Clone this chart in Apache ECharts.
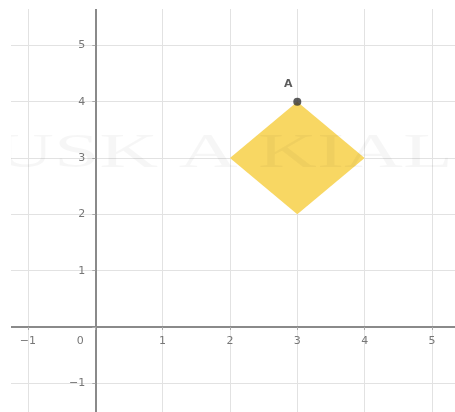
<!DOCTYPE html>
<html>
<head>
<meta charset="utf-8">
<script src="https://cdn.jsdelivr.net/npm/echarts@6/dist/echarts.min.js"></script>
<style>
  html, body { margin: 0; padding: 0; background: #fff; }
  #main { width: 455px; height: 412px; }
</style>
</head>
<body>
<div id="main"></div>
<script>
// square vertices (x, y)
var shapeX = [3, 4, 3, 2];
var shapeY = [4, 3, 2, 3];
// labelled point
var pointA = [3, 4];
var pointName = 'A';
var tickMin = -2, tickMax = 6;

function fmtTick(v) {
    if (v === 0) return '';
    return v < 0 ? '\u2212' + Math.abs(v) : String(v);
}

var chart = echarts.init(document.getElementById('main'));
chart.setOption({
    animation: false,
    backgroundColor: '#fff',
    grid: { left: -39.4, right: -44.3, top: -11, bottom: -27.7, outerBoundsMode: 'none', containLabel: false },
    xAxis: {
        type: 'value', min: tickMin, max: tickMax, interval: 1,
        offset: -112.7,
        axisLine: { onZero: false, lineStyle: { color: '#8a8a8a', width: 2 } },
        axisTick: { show: true, inside: false, length: 3, lineStyle: { color: '#aaa' } },
        splitLine: { lineStyle: { color: '#e2e2e2', width: 1 } },
        axisLabel: {
            margin: 9, color: '#777', fontSize: 11, fontFamily: 'DejaVu Sans',
            formatter: function (v) { return v === 0 ? '{z|0}' : fmtTick(v); },
            rich: { z: { padding: [0, 30, 0, 0], color: '#777', fontSize: 11 } }
        }
    },
    yAxis: {
        type: 'value', min: tickMin, max: tickMax, interval: 1,
        offset: -134.7,
        axisLine: { onZero: false, lineStyle: { color: '#8a8a8a', width: 2 } },
        axisTick: { show: true, length: 3, lineStyle: { color: '#aaa' } },
        splitLine: { lineStyle: { color: '#e2e2e2', width: 1 } },
        axisLabel: { margin: 10, color: '#777', fontSize: 11, fontFamily: 'DejaVu Sans', formatter: fmtTick }
    },
    graphic: [
        // faint watermark lying over the whole picture
        { type: 'text', left: -5, top: 130, z: 50, silent: true, scaleX: 1.7,
          style: { text: 'USK A KIAL', font: '48px "Liberation Serif"', fill: 'rgba(0,0,0,0.035)' } },
        { type: 'rect', left: 0, top: 0, z: 100, shape: { width: 11, height: 412 }, style: { fill: '#fff' } },
        { type: 'rect', left: 0, top: 0, z: 100, shape: { width: 455, height: 9 }, style: { fill: '#fff' } }
    ],
    series: [
        {
            type: 'custom',
            data: [0],
            renderItem: function (params, api) {
                var pts = shapeX.map(function (x, i) { return api.coord([x, shapeY[i]]); });
                return { type: 'polygon', shape: { points: pts }, style: { fill: '#f8d763' } };
            },
            z: 3
        },
        {
            type: 'scatter',
            data: [pointA],
            symbolSize: 8,
            itemStyle: { color: '#333' },
            label: {
                show: true, formatter: pointName, position: 'top', offset: [-9, -3],
                color: '#333', fontSize: 11, fontFamily: 'DejaVu Sans', fontWeight: 'bold'
            },
            z: 5
        }
    ]
});
</script>
</body>
</html>
